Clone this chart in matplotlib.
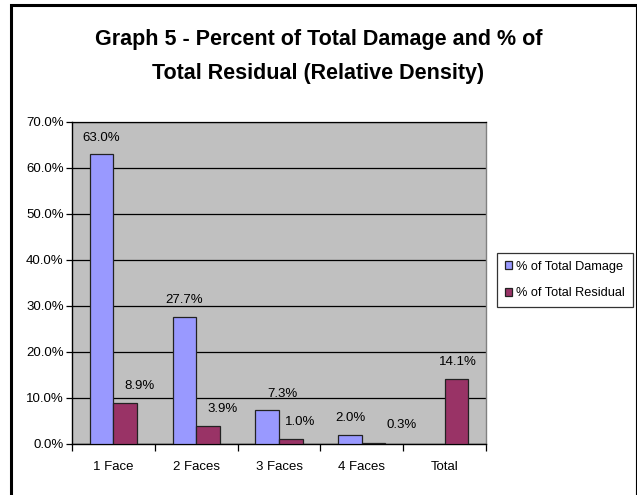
import numpy as np
import matplotlib.pyplot as plt
from matplotlib.lines import Line2D

categories = ['1 Face', '2 Faces', '3 Faces', '4 Faces', 'Total']
damage = [63.0, 27.7, 7.3, 2.0, None]
residual = [8.9, 3.9, 1.0, 0.3, 14.1]
yticks = [0, 10, 20, 30, 40, 50, 60, 70]

# horizontal nudges of the value labels (pixels), as Excel placed them
dmg_nudge = [0, 0, 15, 0, 0]
res_nudge = [14, 15, 9, 28, 1]

plt.rcParams['font.family'] = ['Liberation Sans', 'DejaVu Sans']

fig = plt.figure(figsize=(6.37, 4.95), dpi=100)
fig.patch.set_facecolor('white')


def px(xp, yp):
    return xp / 637, 1 - yp / 495


# chart frame: thick left/top, thin right, bottom cut off
fig.add_artist(Line2D(*zip(px(11, 495), px(11, 5), px(636, 5)),
                      transform=fig.transFigure, color='black', linewidth=2.2,
                      solid_joinstyle='miter'))
fig.add_artist(Line2D(*zip(px(636, 5), px(636, 495)),
                      transform=fig.transFigure, color='black', linewidth=0.8))

ax = fig.add_axes([72 / 637, 51 / 495, 414 / 637, 322 / 495])
ax.set_facecolor('#C0C0C0')

x = np.arange(len(categories))
w = 1 / 3.5
dmg_vals = [v if v is not None else 0 for v in damage]
b1 = ax.bar(x - w / 2, dmg_vals, w, color='#9999FF', edgecolor='#222222',
            linewidth=0.9, label='% of Total Damage', zorder=3)
b2 = ax.bar(x + w / 2, residual, w, color='#993366', edgecolor='#222222',
            linewidth=0.9, label='% of Total Residual', zorder=3)
for i, v in enumerate(damage):
    if v is None:
        b1[i].set_visible(False)
        continue
    ax.annotate(f'{v:.1f}%', (x[i] - w / 2, v), xytext=(dmg_nudge[i] * 0.72, 12),
                textcoords='offset points', ha='center', va='center',
                fontsize=9.5)
for i, v in enumerate(residual):
    ax.annotate(f'{v:.1f}%', (x[i] + w / 2, v), xytext=(res_nudge[i] * 0.72, 12.5),
                textcoords='offset points', ha='center', va='center',
                fontsize=9.5)

ax.set_xlim(-0.5, len(categories) - 0.5)
ax.set_ylim(0, 70)
ax.set_yticks(yticks)
ax.set_yticklabels([f'{t:.1f}%' for t in yticks], fontsize=9.5)
ax.yaxis.grid(True, color='black', linewidth=0.9, zorder=1)
ax.set_axisbelow(True)

ax.set_xticks(x)
ax.set_xticklabels(categories, fontsize=9.5)
ax.tick_params(axis='x', length=0, pad=12)
ax.set_xticks(np.arange(-0.5, len(categories)), minor=True)
ax.tick_params(axis='x', which='minor', length=5, direction='out', width=0.9)
ax.tick_params(axis='y', length=4, direction='out', width=0.9, pad=2)

for s in ['left', 'bottom']:
    ax.spines[s].set_color('black')
    ax.spines[s].set_linewidth(1)
ax.spines['top'].set_color('black')
ax.spines['top'].set_linewidth(0.9)
ax.spines['right'].set_color('#808080')
ax.spines['right'].set_linewidth(1)

leg = fig.legend(handles=[b1, b2], loc='upper left',
                 bbox_to_anchor=px(497, 253), fontsize=9.2,
                 frameon=True, fancybox=False, edgecolor='black',
                 handlelength=0.6, handleheight=0.6, handletextpad=0.3,
                 borderpad=0.6, labelspacing=1.15, borderaxespad=0)
leg.get_frame().set_linewidth(0.9)

fig.text(0.5, 1 - 40 / 495, 'Graph 5 - Percent of Total Damage and % of',
         ha='center', va='center', fontsize=15.5, fontweight='bold')
fig.text(0.5, 1 - 73 / 495, 'Total Residual (Relative Density)',
         ha='center', va='center', fontsize=15.5, fontweight='bold')

fig.savefig('out.png', dpi=100)
